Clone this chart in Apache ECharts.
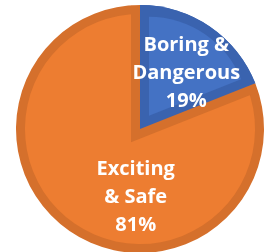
<html>
<head>
    <meta charset="utf-8" />
    <script src="https://cdn.jsdelivr.net/npm/echarts@6/dist/echarts.min.js"></script>
    <style>
        body { margin: 0; background: #ffffff; }
        #main { width: 275px; height: 252px; }
    </style>
</head>
<body>
    <div id="main"></div>
    <script type="text/javascript">
        // 数据
        var names = ['Boring &\nDangerous', 'Exciting\n& Safe'];
        var values = [19, 81];
        var fillColors = ['#4472C4', '#ED7D31'];
        var edgeColors = ['#3A63AF', '#D5702C'];

        // 标签微调
        var labelShift = [[12, -5], [30, 18]];

        var NONE = 'rgba(0,0,0,0)';
        var cx = 140, cy = 129;

        // 按层生成数据: colors[i] 为 null 时该扇区透明
        function layerData(colors) {
            var arr = [];
            for (var i = 0; i < values.length; i++) {
                arr.push({ name: names[i], value: values[i], itemStyle: { color: colors[i] || NONE } });
            }
            return arr;
        }

        function pieLayer(center, r, colors) {
            return {
                type: 'pie',
                center: center,
                radius: [0, r],
                startAngle: 90,
                silent: true,
                label: { show: false },
                labelLine: { show: false },
                data: layerData(colors)
            };
        }

        // 蓝色扇区的角平分线方向, 用于做内描边
        var half = values[0] / 100 * Math.PI;
        var ux = Math.sin(half), uy = -Math.cos(half);
        var d = 16;

        var myChart = echarts.init(document.getElementById('main'));

        var labelLayer = pieLayer([cx, cy], 116, [null, null]);
        labelLayer.label = {
            show: true,
            position: 'inside',
            color: '#ffffff',
            fontFamily: 'Open Sans',
            fontWeight: 'bold',
            fontSize: 20,
            lineHeight: 28,
            formatter: function (p) {
                return p.name + '\n' + p.value + '%';
            }
        };
        labelLayer.labelLayout = function (p) {
            return { dx: labelShift[p.dataIndex][0], dy: labelShift[p.dataIndex][1] };
        };

        var option = {
            animation: false,
            series: [
                pieLayer([cx, cy], 124, [edgeColors[0], edgeColors[1]]),
                pieLayer([cx, cy], 115, [null, fillColors[1]]),
                pieLayer([cx - d * ux, cy - d * uy], 136.5, [edgeColors[1], null]),
                pieLayer([cx, cy], 124, [edgeColors[0], null]),
                pieLayer([cx + d * ux, cy + d * uy], 99, [fillColors[0], null]),
                labelLayer
            ]
        };
        myChart.setOption(option);
    </script>
</body>
</html>
